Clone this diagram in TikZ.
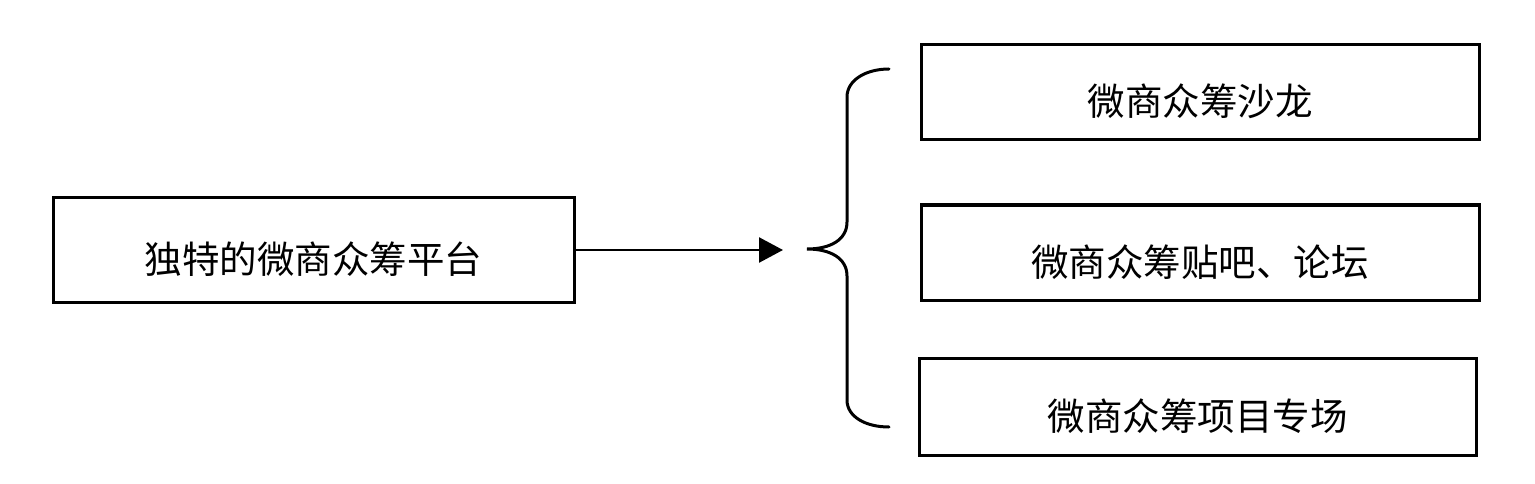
\documentclass[tikz,border=0pt]{standalone}
\usepackage{fontspec}
\newfontfamily\cjk{Noto Sans CJK SC}
\usetikzlibrary{arrows.meta}
\tikzset{
  box/.style={draw=black, line width=3pt, inner sep=0pt, text height=47pt, text depth=0pt,
    font=\cjk\fontsize{37.5}{42}\selectfont},
  conn/.style={line width=2.5pt},
  bracestyle/.style={line width=3pt, line cap=round}
}
\begin{document}
\begin{tikzpicture}[x=1pt,y=-1pt]
\useasboundingbox (0,0) rectangle (1535,484);
\node[box, minimum width=521pt, minimum height=104pt] (src) at (313.5,250) {独特的微商众筹平台};
\node[box, minimum width=558pt, minimum height=95pt] (a) at (1200,92.5) {微商众筹沙龙};
\node[box, minimum width=558pt, minimum height=95pt] (b) at (1200,252.5) {微商众筹贴吧、论坛};
\node[box, minimum width=557pt, minimum height=97pt] (c) at (1197.5,406.5) {微商众筹项目专场};
\coordinate (tipend) at (783,250);
\draw[conn, -{Triangle[length=24pt,width=25pt]}] (src.east) -- (tipend);
\coordinate (btop) at (889,69);
\coordinate (bmid) at (807,249);
\coordinate (bbot) at (889,427);
\draw[bracestyle] (btop) .. controls (866,69) and (847,80) .. (847,97)
  -- (847,222) .. controls (847,240) and (830,249) .. (bmid)
  .. controls (830,249) and (847,258) .. (847,276)
  -- (847,400) .. controls (847,417) and (866,427) .. (bbot);
\end{tikzpicture}
\end{document}
